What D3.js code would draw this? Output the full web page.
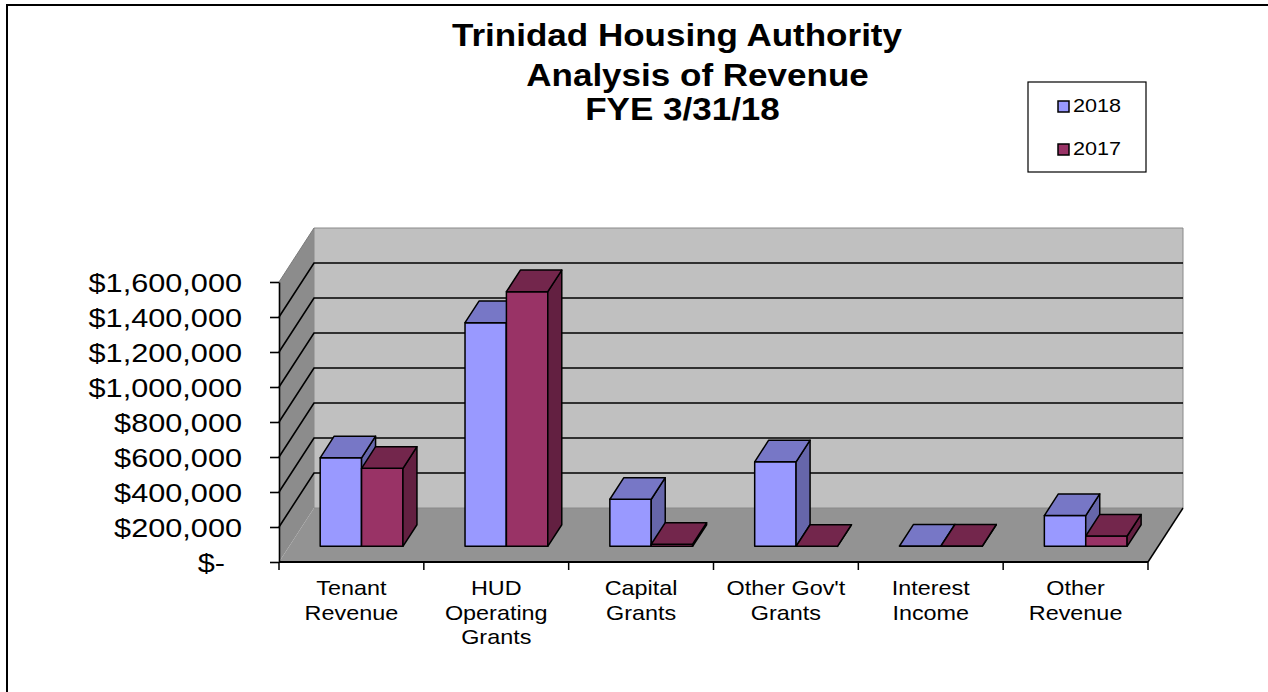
<!DOCTYPE html>
<html>
<head>
<meta charset="utf-8">
<script src="https://cdn.jsdelivr.net/npm/d3@7"></script>
<style>
  html, body { margin: 0; padding: 0; background: #ffffff; }
  svg { display: block; }
  text { font-family: "Liberation Sans", Arial, sans-serif; fill: #000; }
</style>
</head>
<body>
<svg id="chart" width="1268" height="692"></svg>
<script>
// ---------------- DATA ----------------
const titleLines = ["Trinidad Housing Authority", "Analysis of Revenue", "FYE 3/31/18"];
const categories = ["Tenant Revenue", "HUD Operating Grants", "Capital Grants", "Other Gov't Grants", "Interest Income", "Other Revenue"];
const categoryLabelLines = [["Tenant", "Revenue"], ["HUD", "Operating", "Grants"], ["Capital", "Grants"], ["Other Gov't", "Grants"], ["Interest", "Income"], ["Other", "Revenue"]];
const seriesNames = ["2018", "2017"];
const values2018 = [506000, 1278000, 269000, 483000, 2000, 176000];
const values2017 = [446000, 1455000, 12000, 0, 1500, 59000];
const yTicks = [0, 200000, 400000, 600000, 800000, 1000000, 1200000, 1400000, 1600000];
const yTickLabels = ["$-", "$200,000", "$400,000", "$600,000", "$800,000", "$1,000,000", "$1,200,000", "$1,400,000", "$1,600,000"];

// ---------------- LAYOUT / STYLE ----------------
const seriesValues = { "2018": values2018, "2017": values2017 };
const colors = {
  "2018": { front: "#9999FF", top: "#7777C6", side: "#6666AA" },
  "2017": { front: "#993366", top: "#73264C", side: "#632041" }
};
const depth = { dx: 35, dy: -54 };
const t0 = 0.29, t1 = 0.69;

const svg = d3.select("#chart");
svg.append("rect").attr("width", 1268).attr("height", 692).attr("fill", "#fff");

// outer frame (top + left)
svg.append("path").attr("d", "M7,692 V5 H1268").attr("fill", "none").attr("stroke", "#000").attr("stroke-width", 2);

const x = d3.scaleBand().domain(categories).range([279, 1148]).paddingInner(0).paddingOuter(0);
const xs = d3.scaleBand().domain(seriesNames).range([0, x.bandwidth()]).paddingInner(0).paddingOuter(0.75);
const y = d3.scaleLinear().domain([0, 1600000]).range([562, 282]);
const vMax = 1600000;

function P(px, v, t) { return [px + t * depth.dx, y(v) + t * depth.dy]; }
const line = d3.line();
function poly(pts) { return line(pts) + "Z"; }

const xL = x.range()[0], xR = x.range()[1];

// side wall
svg.append("path")
  .attr("d", poly([P(xL, 0, 0), P(xL, 0, 1), P(xL, vMax, 1), P(xL, vMax, 0)]))
  .attr("fill", "#8C8C8C").attr("stroke", "none");
// floor
svg.append("path")
  .attr("d", poly([P(xL, 0, 0), P(xR, 0, 0), P(xR, 0, 1), P(xL, 0, 1)]))
  .attr("fill", "#939393").attr("stroke", "none");
// back wall
svg.append("path")
  .attr("d", poly([P(xL, 0, 1), P(xR, 0, 1), P(xR, vMax, 1), P(xL, vMax, 1)]))
  .attr("fill", "#C0C0C0").attr("stroke", "#8a8a8a").attr("stroke-width", 1);
// side wall top edge
svg.append("path").attr("d", line([P(xL, vMax, 0), P(xL, vMax, 1)]))
  .attr("stroke", "#7a7a7a").attr("stroke-width", 1).attr("fill", "none");
// floor right edge
svg.append("path").attr("d", line([P(xR, 0, 0), P(xR, 0, 1)]))
  .attr("stroke", "#000").attr("stroke-width", 1.5).attr("fill", "none");

// gridlines
const grid = svg.append("g");
yTicks.filter(v => v > 0 && v < vMax).forEach(v => {
  grid.append("path").attr("d", line([P(xL, v, 0), P(xL, v, 1), P(xR, v, 1)]))
    .attr("fill", "none").attr("stroke", "#000").attr("stroke-width", 1.6);
});

// bars
const bars = svg.append("g");
categories.forEach((c, i) => {
  seriesNames.forEach(s => {
    const v = seriesValues[s][i];
    const bx = x(c) + xs(s), bw = xs.bandwidth();
    const col = colors[s];
    const g = bars.append("g").attr("stroke", "#000").attr("stroke-width", 1.5).attr("stroke-linejoin", "round");
    g.append("path").attr("d", poly([P(bx, 0, t0), P(bx + bw, 0, t0), P(bx + bw, v, t0), P(bx, v, t0)])).attr("fill", col.front);
    g.append("path").attr("d", poly([P(bx + bw, 0, t0), P(bx + bw, 0, t1), P(bx + bw, v, t1), P(bx + bw, v, t0)])).attr("fill", col.side);
    g.append("path").attr("d", poly([P(bx, v, t0), P(bx + bw, v, t0), P(bx + bw, v, t1), P(bx, v, t1)])).attr("fill", col.top);
  });
});

// y axis (lines via d3 axis)
const yAxis = svg.append("g").attr("transform", `translate(${xL},0)`)
  .call(d3.axisLeft(y).tickValues(yTicks).tickFormat("").tickSize(9).tickSizeOuter(0));
yAxis.selectAll("path, line").attr("stroke", "#000").attr("stroke-width", 1.6);

// y labels
const sx = 1.18;
yTicks.forEach((v, i) => {
  const rx = v === 0 ? 225 : 242;
  svg.append("text")
    .attr("transform", `translate(${rx},${y(v) + 9.5}) scale(${sx},1)`)
    .attr("text-anchor", "end").attr("font-size", 26)
    .text(yTickLabels[i]);
});

// x axis line and ticks at band boundaries
svg.append("path").attr("d", line([[xL, y(0)], [xR, y(0)]])).attr("stroke", "#000").attr("stroke-width", 1.8);
const bounds = categories.map(c => x(c)).concat([xR]);
bounds.forEach(bx => {
  svg.append("path").attr("d", line([[bx, y(0)], [bx, y(0) + 8]])).attr("stroke", "#000").attr("stroke-width", 1.5);
});

// category labels
categories.forEach((c, i) => {
  const cx = x(c) + x.bandwidth() / 2;
  categoryLabelLines[i].forEach((ln, j) => {
    svg.append("text")
      .attr("transform", `translate(${cx},${595 + j * 24.5}) scale(1.17,1)`)
      .attr("text-anchor", "middle").attr("font-size", 20)
      .text(ln);
  });
});

// title
const titlePos = [[677, 46], [697.5, 86], [682.5, 120]];
titleLines.forEach((t, i) => {
  svg.append("text")
    .attr("transform", `translate(${titlePos[i][0]},${titlePos[i][1]}) scale(1.13,1)`)
    .attr("text-anchor", "middle").attr("font-size", 31).attr("font-weight", "bold")
    .text(t);
});

// legend
const lg = svg.append("g");
lg.append("rect").attr("x", 1028).attr("y", 82).attr("width", 118).attr("height", 90)
  .attr("fill", "#fff").attr("stroke", "#000").attr("stroke-width", 1.2);
seriesNames.forEach((s, i) => {
  const yy = 101 + i * 43;
  lg.append("rect").attr("x", 1058).attr("y", yy).attr("width", 11).attr("height", 11)
    .attr("fill", colors[s].front).attr("stroke", "#000").attr("stroke-width", 1.5);
  lg.append("text")
    .attr("transform", `translate(1073,${yy + 11}) scale(1.2,1)`)
    .attr("font-size", 18).text(s);
});
</script>
</body>
</html>
